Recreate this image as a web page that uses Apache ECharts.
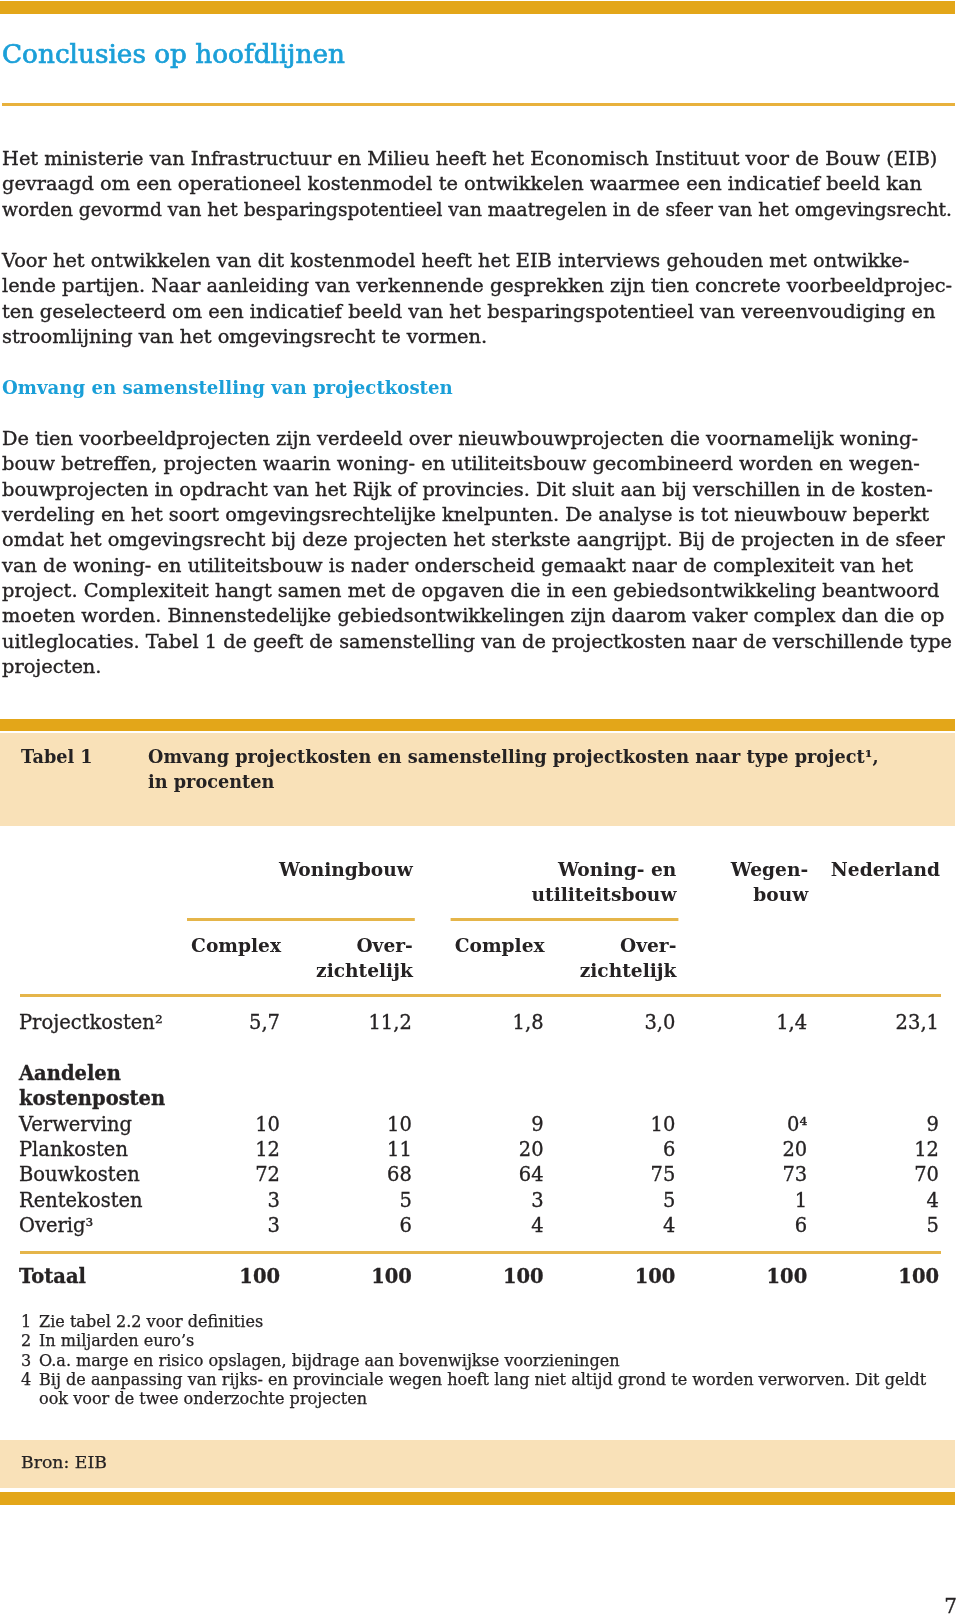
<!DOCTYPE html>
<html><head><meta charset="utf-8">
<script src="https://cdn.jsdelivr.net/npm/echarts@6/dist/echarts.min.js"></script>
<style>html,body{margin:0;padding:0;background:#fff}#c{width:960px;height:1618px}</style>
</head><body><div id="c"></div><script>
// ---------- texts ----------
const pageTitle = 'Conclusies op hoofdlijnen';
const para1 = [
  'Het ministerie van Infrastructuur en Milieu heeft het Economisch Instituut voor de Bouw (EIB)',
  'gevraagd om een operationeel kostenmodel te ontwikkelen waarmee een indicatief beeld kan',
  'worden gevormd van het besparingspotentieel van maatregelen in de sfeer van het omgevingsrecht.'
];
const para2 = [
  'Voor het ontwikkelen van dit kostenmodel heeft het EIB interviews gehouden met ontwikke-',
  'lende partijen. Naar aanleiding van verkennende gesprekken zijn tien concrete voorbeeldprojec-',
  'ten geselecteerd om een indicatief beeld van het besparingspotentieel van vereenvoudiging en',
  'stroomlijning van het omgevingsrecht te vormen.'
];
const subHeading = 'Omvang en samenstelling van projectkosten';
const para3 = [
  'De tien voorbeeldprojecten zijn verdeeld over nieuwbouwprojecten die voornamelijk woning-',
  'bouw betreffen, projecten waarin woning- en utiliteitsbouw gecombineerd worden en wegen-',
  'bouwprojecten in opdracht van het Rijk of provincies. Dit sluit aan bij verschillen in de kosten-',
  'verdeling en het soort omgevingsrechtelijke knelpunten. De analyse is tot nieuwbouw beperkt',
  'omdat het omgevingsrecht bij deze projecten het sterkste aangrijpt. Bij de projecten in de sfeer',
  'van de woning- en utiliteitsbouw is nader onderscheid gemaakt naar de complexiteit van het',
  'project. Complexiteit hangt samen met de opgaven die in een gebiedsontwikkeling beantwoord',
  'moeten worden. Binnenstedelijke gebiedsontwikkelingen zijn daarom vaker complex dan die op',
  'uitleglocaties. Tabel 1 de geeft de samenstelling van de projectkosten naar de verschillende type',
  'projecten.'
];
const tableLabel = 'Tabel 1';
const tableTitle = ['Omvang projectkosten en samenstelling projectkosten naar type project\u00b9,', 'in procenten'];

// ---------- table data ----------
const groupHeaders = [['Woningbouw'], ['Woning- en', 'utiliteitsbouw'], ['Wegen-', 'bouw'], ['Nederland']];
const groupSpans = [[0, 1], [2, 3], [4, 4], [5, 5]];
const subHeaders = [['Complex'], ['Over-', 'zichtelijk'], ['Complex'], ['Over-', 'zichtelijk'], [], []];
const rowLabels = ['Projectkosten\u00b2', '', 'Aandelen', 'kostenposten', 'Verwerving', 'Plankosten', 'Bouwkosten', 'Rentekosten', 'Overig\u00b3', '', 'Totaal'];
const boldRows = ['Aandelen', 'kostenposten', 'Totaal'];
const projectkosten = [5.7, 11.2, 1.8, 3.0, 1.4, 23.1];
const verwerving = [10, 10, 9, 10, 0, 9];
const verwervingNotes = ['', '', '', '', '\u2074', ''];
const plankosten = [12, 11, 20, 6, 20, 12];
const bouwkosten = [72, 68, 64, 75, 73, 70];
const rentekosten = [3, 5, 3, 5, 1, 4];
const overig = [3, 6, 4, 4, 6, 5];
const totaal = [100, 100, 100, 100, 100, 100];
const footnotes = [
  ['1', 'Zie tabel 2.2 voor definities'],
  ['2', 'In miljarden euro\u2019s'],
  ['3', 'O.a. marge en risico opslagen, bijdrage aan bovenwijkse voorzieningen'],
  ['4', 'Bij de aanpassing van rijks- en provinciale wegen hoeft lang niet altijd grond te worden verworven. Dit geldt'],
  ['', 'ook voor de twee onderzochte projecten']
];
const source = 'Bron: EIB';
const pageNumber = '7';

// ---------- styling ----------
const FONT = '"DejaVu Serif", serif';
const INK = '#252223', BLUE = '#1a9fd8', GOLD = '#e3a619', BAND = '#f9e1b8', RULE = '#e5b54a';
const cv = document.createElement('canvas').getContext('2d');
function measure(text, weight, size) { cv.font = weight + ' ' + size + 'px ' + FONT; return cv.measureText(text).width; }
function fit(text, weight, target) { return 100 * target / measure(text, weight, 100); }
const sBody = fit(para1[0], 'normal', 909) * 1.03;
const sTitle = fit(pageTitle, 'normal', 343);
const sSub = fit(subHeading, 'bold', 451);
const sTabTitle = fit(tableTitle[0], 'bold', 731);
const sCell = fit('Verwerving', 'normal', 113);
const sHead = fit('Woningbouw', 'bold', 134);
const sFoot = fit(footnotes[3][1], 'normal', 888);
const sBron = fit(source, 'normal', 86);
const RIGHT_LIMIT = 952;

function T(x, y, text, size, o) {
  o = o || {};
  const w = measure(text, o.bold ? 'bold' : 'normal', size);
  const el = { type: 'text', x: x, y: y, silent: true, z: 10, style: {
    text: text, fontSize: size, fontFamily: FONT, fontWeight: o.bold ? 'bold' : 'normal',
    fill: o.fill || INK, textAlign: o.align || 'left', align: o.align || 'left',
    textVerticalAlign: 'middle', verticalAlign: 'middle' } };
  if (o.stroke) { el.style.stroke = o.fill || INK; el.style.lineWidth = o.stroke; }
  if ((o.align || 'left') === 'left' && x + w > RIGHT_LIMIT) { el.scaleX = (RIGHT_LIMIT - x) / w; el.originX = 0; el.originY = 0; }
  return el;
}
function R(x, y, w, h, fill) { return { type: 'rect', silent: true, z: 1, shape: { x: x, y: y, width: w, height: h }, style: { fill: fill } }; }

const fmt1 = v => v.toFixed(1).replace('.', ',');
const cells = [];
function addRow(label, vals, f, notes, bold) {
  const r = rowLabels.indexOf(label);
  vals.forEach((v, c) => cells.push({ value: [c, r], txt: f(v) + (notes ? notes[c] : ''), bold: !!bold }));
}
addRow('Projectkosten\u00b2', projectkosten, fmt1);
addRow('Verwerving', verwerving, String, verwervingNotes);
addRow('Plankosten', plankosten, String);
addRow('Bouwkosten', bouwkosten, String);
addRow('Rentekosten', rentekosten, String);
addRow('Overig\u00b3', overig, String);
addRow('Totaal', totaal, String, null, true);

const chart = echarts.init(document.getElementById('c'), null, { renderer: 'canvas' });
chart.setOption({
  animation: false,
  backgroundColor: '#fff',
  grid: { left: 280, right: 21, top: 1024, bottom: 340, containLabel: false },
  xAxis: { type: 'category', data: [0, 1, 2, 3, 4, 5], boundaryGap: false, show: false },
  yAxis: { type: 'category', data: rowLabels, inverse: true, boundaryGap: false,
    axisLine: { show: false }, axisTick: { show: false }, splitLine: { show: false },
    axisLabel: { interval: 0, align: 'left', margin: 261, fontFamily: FONT, fontSize: sCell, color: INK,
      textBorderColor: INK, textBorderWidth: 0.3,
      formatter: v => boldRows.indexOf(v) >= 0 ? '{b|' + v + '}' : v,
      rich: { b: { fontWeight: 'bold', fontFamily: FONT, fontSize: sCell, color: INK } } } },
  series: [{
    type: 'scatter', symbolSize: 0, silent: true,
    itemStyle: { opacity: 1 },
    data: cells.map(c => ({ value: c.value, label: { fontWeight: c.bold ? 'bold' : 'normal' }, txt: c.txt })),
    label: { show: true, position: 'left', distance: 0, fontFamily: FONT, fontSize: sCell, color: INK,
      opacity: 1, textBorderColor: INK, textBorderWidth: 0.3, formatter: p => p.data.txt }
  }]
});

const px = c => chart.convertToPixel({ xAxisIndex: 0 }, c);
const py = r => chart.convertToPixel({ yAxisIndex: 0 }, r);

const g = [];
const SW = 0.35;
// page header
g.push(R(0, 1, 955, 13, GOLD));
g.push(T(2, 56, pageTitle, sTitle, { fill: BLUE, stroke: 0.7 }));
g.push(R(2, 103, 953, 3, '#e8b13c'));
// paragraphs
const step = 25.35;
para1.forEach((l, i) => g.push(T(2, 160 + i * step, l, sBody, { stroke: SW })));
para2.forEach((l, i) => g.push(T(2, 262 + i * step, l, sBody, { stroke: SW })));
g.push(T(2, 389, subHeading, sSub, { bold: true, fill: BLUE }));
para3.forEach((l, i) => g.push(T(2, 440 + i * step, l, sBody, { stroke: SW })));
// table title band
g.push(R(0, 719, 955, 12, GOLD));
g.push(R(0, 733, 955, 93, BAND));
g.push(T(21, 758, tableLabel, sTabTitle, { bold: true }));
tableTitle.forEach((l, i) => g.push(T(148, 758 + i * 25.5, l, sTabTitle, { bold: true })));
// column headers
groupHeaders.forEach((lines, gi) => {
  const xr = px(groupSpans[gi][1]);
  lines.forEach((l, li) => g.push(T(xr + 1, 871 + li * 25.5, l, sHead, { bold: true, align: 'right' })));
  if (groupSpans[gi][1] > groupSpans[gi][0]) {
    const xl = px(groupSpans[gi][0]) - 93;
    g.push(R(xl, 918, xr + 3 - xl, 3, RULE));
  }
});
subHeaders.forEach((lines, c) => {
  lines.forEach((l, li) => g.push(T(px(c) + 1, 947 + li * 25.5, l, sHead, { bold: true, align: 'right' })));
});
g.push(R(20, 994, 921, 3, RULE));
g.push(R(20, py(9) - 1.5, 921, 3, RULE));
// footnotes
footnotes.forEach((f, i) => {
  if (f[0]) g.push(T(21, 1323 + i * 19.3, f[0], sFoot, { stroke: 0.25 }));
  g.push(T(39, 1323 + i * 19.3, f[1], sFoot, { stroke: 0.25 }));
});
// source band
g.push(R(0, 1440, 955, 48, BAND));
g.push(T(21, 1464, source, sBron, { stroke: 0.25 }));
g.push(R(0, 1492, 955, 13, GOLD));
g.push(T(957, 1608, pageNumber, 20, { align: 'right', stroke: 0.3 }));

chart.setOption({ graphic: { elements: g } });
</script></body></html>
